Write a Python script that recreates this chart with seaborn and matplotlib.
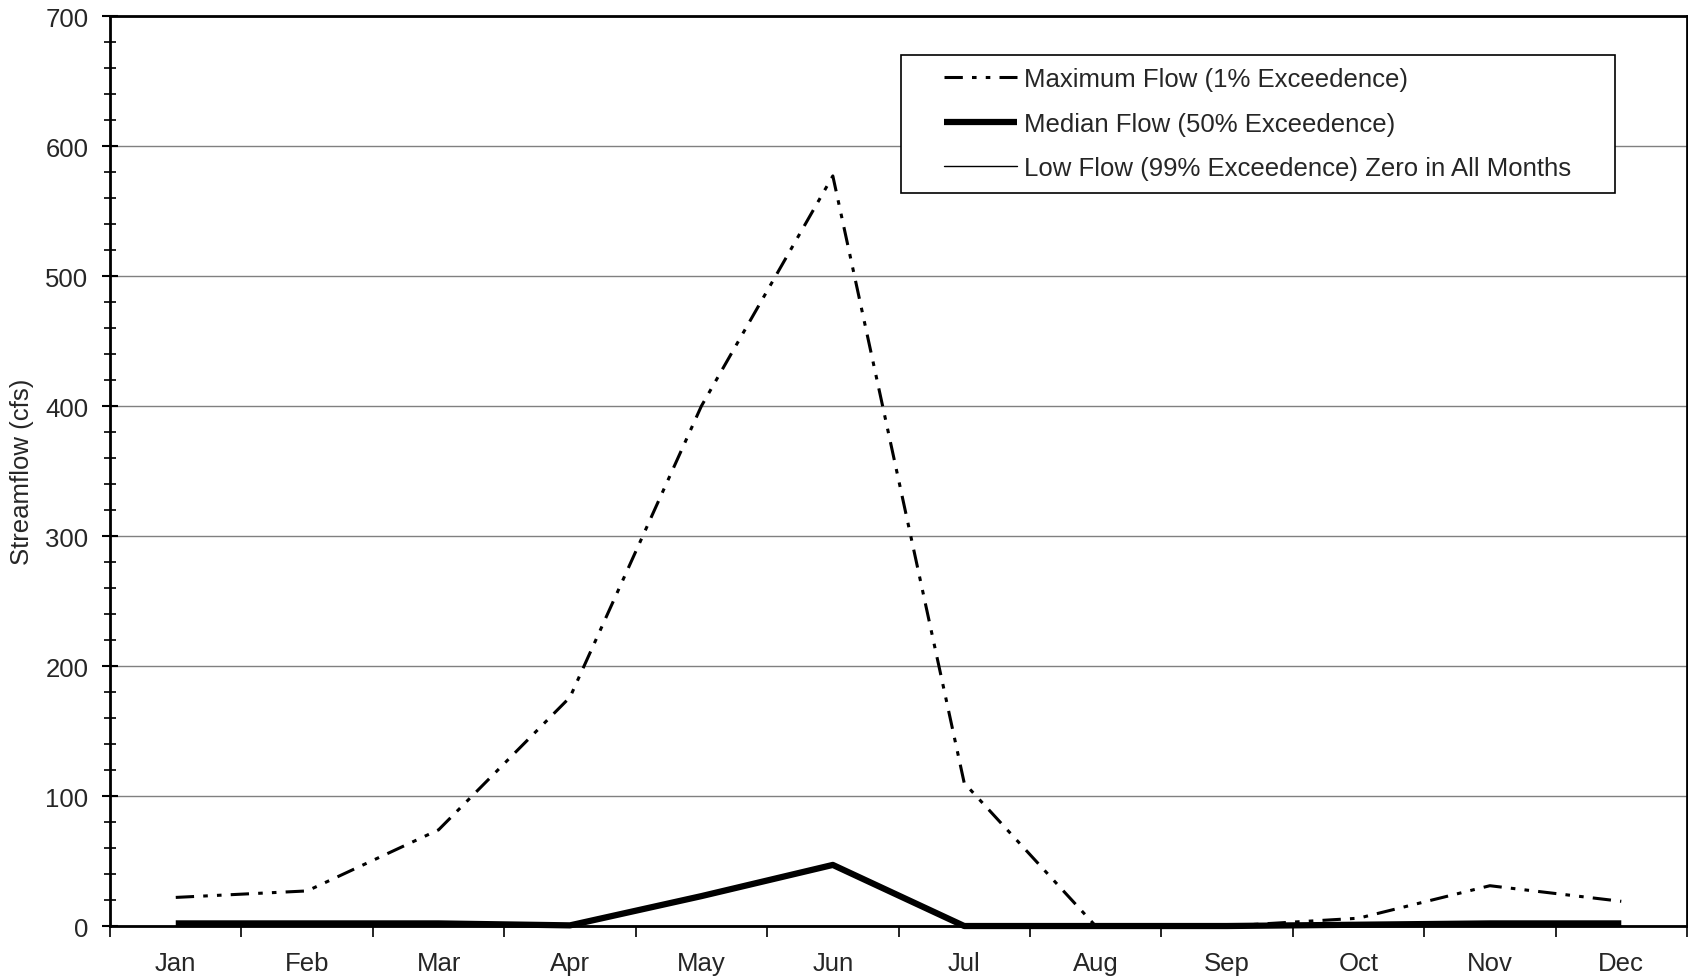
import numpy as np
import pandas as pd
import seaborn as sns
import matplotlib.pyplot as plt
from matplotlib.patches import Rectangle

months = ['Jan', 'Feb', 'Mar', 'Apr', 'May', 'Jun', 'Jul', 'Aug', 'Sep', 'Oct', 'Nov', 'Dec']
max_flow = [22, 27, 74, 176, 400, 577, 110, 0, 0, 6, 31, 19]
median_flow = [2, 2, 2, 0.5, 23, 47, 0, 0, 0, 1, 2, 2]
low_flow = [0] * 12

labels = ['Maximum Flow (1% Exceedence)',
          'Median Flow (50% Exceedence)',
          'Low Flow (99% Exceedence) Zero in All Months']

df = pd.DataFrame({'month': np.arange(len(months)),
                   'max': max_flow, 'median': median_flow, 'low': low_flow})

sns.set_style('white')
plt.rcParams['font.family'] = ['Liberation Sans', 'DejaVu Sans']
FS = 18.5

fig = plt.figure(figsize=(16.88, 9.79), dpi=100)
ax = fig.add_axes([0.0652, 0.0531, 0.9342, 0.9295])

# draw in z order: low, median, max
sns.lineplot(data=df, x='month', y='low', ax=ax, color='black', linewidth=1.0,
             clip_on=False, zorder=3, label=labels[2])
sns.lineplot(data=df, x='month', y='median', ax=ax, color='black', linewidth=4.5,
             clip_on=False, zorder=4, label=labels[1], solid_capstyle='butt')
sns.lineplot(data=df, x='month', y='max', ax=ax, color='black', linewidth=2.2,
             linestyle=(0, (6, 3, 1.5, 3, 1.5, 3)), clip_on=False, zorder=5,
             label=labels[0])

ax.set_xlim(-0.5, 11.5)
ax.set_ylim(0, 700)

# x: tick marks between months, labels at centres
ax.set_xticks(np.arange(-0.5, 12, 1))
ax.set_xticklabels([])
ax.set_xticks(np.arange(12), minor=True)
ax.set_xticklabels(months, minor=True)
ax.tick_params(axis='x', which='major', direction='out', length=8, width=1.2,
               color='black', bottom=True)
ax.tick_params(axis='x', which='minor', length=0, pad=18, labelsize=FS)

# y
ax.set_yticks(np.arange(0, 701, 100))
ax.set_yticks(np.arange(0, 701, 20), minor=True)
ax.tick_params(axis='y', which='major', direction='inout', length=11, width=1.5,
               color='black', left=True, labelsize=FS, pad=10)
ax.tick_params(axis='y', which='minor', direction='inout', length=9, width=1.2,
               color='black', left=True)

ax.yaxis.grid(True, which='major', color='#808080', linewidth=1.0)
ax.xaxis.grid(False)
ax.set_axisbelow(True)

for s in ax.spines.values():
    s.set_visible(True)
    s.set_color('black')
    s.set_linewidth(2.0)

ax.set_xlabel('')
ax.set_ylabel('Streamflow (cfs)', fontsize=FS, labelpad=8)

# legend with a separate square frame
handles, labs = ax.get_legend_handles_labels()
order = [labs.index(l) for l in labels]
leg = ax.legend([handles[i] for i in order], [labs[i] for i in order],
                loc='upper left', bbox_to_anchor=(0.529, 0.944), frameon=False,
                fontsize=FS, handlelength=2.85, handletextpad=0.25,
                labelspacing=0.8, borderpad=0.0, borderaxespad=0.0)
leg.set_zorder(10)
ax.add_patch(Rectangle((0.5016, 0.8057), 0.4528, 0.1516, transform=ax.transAxes,
                       facecolor='white', edgecolor='black', linewidth=1.2,
                       zorder=9, clip_on=False))

fig.savefig('out.png', dpi=100)
